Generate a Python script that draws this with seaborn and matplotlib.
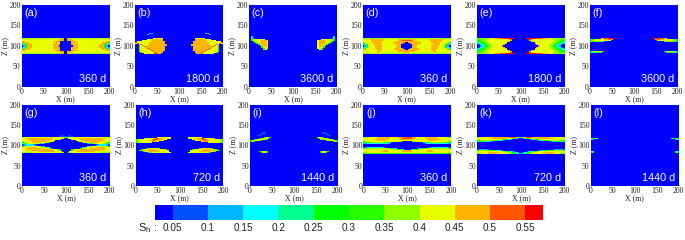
import numpy as np
import matplotlib
matplotlib.use('Agg')
import matplotlib.pyplot as plt
from matplotlib.colors import ListedColormap
import seaborn as sns

# Sh level per cell, left half of each panel (x = 0..100 m, 4 m cells), mirrored on x = 100.
# Rows run from z = 135 m down to z = 77.5 m in 2.5 m steps, 0..b are the colour bar classes,
# short rows are blue to the right, everything outside the rows is blue.
panel_a = ["", "", "", "", "", "",
           "7777777777777777777777790",
           "8888888888888888888889990",
           "8888888888888888888899990",
           "9988888888888888889999000",
           "5999888888888888888999000",
           "3599988888888888889999000",
           "2359998888888888889999000",
           "0259998888888888889990000",
           "0259998888888888889990000",
           "2359998888888888889999000",
           "3599988888888888889999000",
           "5999888888888888888999000",
           "9988888888888888889999000",
           "8888888888888888888899990",
           "8888888888888888888889990",
           "7777777777777777777777790",
           ""]
panel_b = ["",
           "0000000022",
           "00000002",
           "", "", "",
           "0000000000888888",
           "0000000888999999",
           "0000888889999999",
           "08888888899999999",
           "a8888888999999999",
           "8a888888999999999",
           "008a88889999999999",
           "0058a8899999999999",
           "00588a89999999999",
           "005888a9999999999",
           "0058888a999999999",
           "00588888a99999999",
           "005888888a9999999",
           "0058888888a99999",
           "00058888888a9999",
           "00000888888aa99",
           ""]
panel_c = ["", "", "", "",
           "02",
           "03",
           "032",
           "057888888",
           "05788889998",
           "00578899998",
           "00057899998",
           "00005789998",
           "00000589998",
           "00000058998",
           "00000005898",
           "00000005888",
           "00000000588",
           "0000000078",
           "", "", "", "", ""]
panel_d = ["", "", "", "", "", "",
           "7777777777777777777777777",
           "8888999999998888888899999",
           "8888899999998888888899aaa",
           "8888899999988888889999999",
           "5888889999988888899999990",
           "3588889999988888899999900",
           "2358889999888888888999000",
           "0258888999988888888999000",
           "0258888999988888888999000",
           "2358888999988888888999000",
           "3588888999988888889999900",
           "5888888899988888889999990",
           "8888888899988888888999999",
           "8888888899888888888899999",
           "8888888899888888888888899",
           "7777777788777777777777777",
           ""]
panel_e = ["", "", "", "", "", "",
           "7777777889999aaabbbbbb",
           "6667778888888888889a",
           "56677788888888888889",
           "4566778888888888889",
           "34566778888888888",
           "23456677888888889",
           "0134567788888889",
           "002345677888889",
           "002345677888889",
           "0134567788888889",
           "23456677888888889",
           "34566778888888888",
           "4566778888888888889",
           "56677788888888888889",
           "6667778888888888889a",
           "7777777889999aaabbbbbb",
           ""]
panel_f = ["", "", "", "", "", "",
           "00000089aaabbb",
           "4578888899aa9",
           "5788888888780",
           "4567775300",
           "", "", "", "", "", "", "", "", "",
           "46888864",
           "23455430",
           "", ""]
panel_g = ["", "", "", "",
           "0000000000000000000000110",
           "0000000000000000000001111",
           "7888888888888888888888877",
           "8889999999999999998888880",
           "8888999999999999988888000",
           "8889999999999999888",
           "78888999999999888700",
           "5788889999988875",
           "3577888887532",
           "12333321",
           "123333321",
           "5788888888753",
           "8889999988888753",
           "8899999999988887500000000",
           "88899999999999999888750",
           "8888899999999999998875000",
           "8888888889999999999888800",
           "7777788888888888888888770",
           ""]
panel_h = ["", "", "", "", "", "",
           "00000000000088888888",
           "00000788889aa99988880",
           "5788888889aa999888",
           "5788888899a99988",
           "578888888a998",
           "468888888",
           "", "", "", "", "",
           "00000057888875",
           "000578899999888875",
           "0057899999999888888",
           "0000578999999988888",
           "00000005788888888888",
           ""]
panel_i = ["",
           "0000000110",
           "000000111",
           "00000110",
           "000011",
           "",
           "000000005885",
           "00000578885",
           "0057888875",
           "5788875",
           "575",
           "", "", "", "", "", "", "", "", "",
           "000005788500",
           "0000005785",
           ""]
panel_j = ["", "", "", "", "", "",
           "7778888899999998888899aaa",
           "8888888999999998888899aaa",
           "8888889999999988888889999",
           "7888888899999888888888888",
           "6788888888888888888877000",
           "4566777777776543",
           "2233333333333320",
           "", "", "",
           "1233333333321",
           "6777777777777776543",
           "8888888888888888887654300",
           "8888888888899988888888999",
           "8888888888999988888888999",
           "7788888888888888888888888",
           "5666666666666666666666666"]
panel_k = ["", "", "", "", "", "",
           "7888888889999999999aaa993",
           "8888889999999999988876320",
           "788888888888887654320",
           "5677777776654321",
           "34554432100",
           "", "", "", "", "", "", "",
           "1222221",
           "6777777666543210",
           "8888888888888887654321",
           "8888889999999888887654320",
           "6778889999988888888765432"]
panel_l = ["", "", "", "", "", "", "",
           "5653",
           "32",
           "", "", "", "", "", "", "", "", "", "", "",
           "33",
           "55",
           ""]

panels = [panel_a, panel_b, panel_c, panel_d, panel_e, panel_f,
          panel_g, panel_h, panel_i, panel_j, panel_k, panel_l]
tags = ['(a)', '(b)', '(c)', '(d)', '(e)', '(f)', '(g)', '(h)', '(i)', '(j)', '(k)', '(l)']
times = ['360 d', '1800 d', '3600 d', '360 d', '1800 d', '3600 d',
         '360 d', '720 d', '1440 d', '360 d', '720 d', '1440 d']
axis_ticks = [0, 50, 100, 150, 200]

level_colors = ['#0000ff', '#0050ff', '#00b4ff', '#00ffff', '#00ff90', '#00ff00',
                '#28ff00', '#90ff00', '#e8ff00', '#ffb400', '#ff5500', '#ff0000']
bar_labels = ['0.05', '0.1', '0.15', '0.2', '0.25', '0.3', '0.35', '0.4', '0.45', '0.5', '0.55']
# first and last class are half as wide on the colour bar
bar_cells = [0, 1, 1, 2, 2, 3, 3, 4, 4, 5, 5, 6, 6, 7, 7, 8, 8, 9, 9, 10, 10, 11]

# panel boxes in pixels: left, right
col_left = [21.7, 135, 249, 362.7, 476.7, 590]
col_left2 = [22, 135.7, 250, 363.3, 477, 590.7]
panel_w = 87.8

W, H = 685, 240
sns.set_theme(style='white')
plt.rcParams['font.family'] = ['Liberation Serif', 'DejaVu Serif']
cmap = ListedColormap(level_colors)


def box(left, top, right, bottom):
    return [left / W, 1 - bottom / H, (right - left) / W, (bottom - top) / H]


def make_grid(rows):
    grid = np.zeros((80, 50))
    half = np.array([[int(c, 16) for c in r.ljust(25, '0')[:25]] for r in rows])
    grid[26:26 + len(rows)] = np.hstack([half, half[:, ::-1]])
    return grid


fig = plt.figure(figsize=(W / 100, H / 100), dpi=100)

for i, rows in enumerate(panels):
    if i < 6:
        left, top, bottom = col_left[i], 5, 86.7
    else:
        left, top, bottom = col_left2[i - 6], 105, 185.7
    ax = fig.add_axes(box(left, top, left + panel_w, bottom))
    sns.heatmap(make_grid(rows), ax=ax, cmap=cmap, vmin=-0.5, vmax=11.5, cbar=False,
                xticklabels=False, yticklabels=False)
    ax.set_xticks([v / 4 for v in axis_ticks])
    ax.set_xticklabels(axis_ticks, rotation=0)
    ax.set_yticks([(200 - v) / 2.5 for v in axis_ticks])
    ax.set_yticklabels(axis_ticks, rotation=0)
    ax.tick_params(labelsize=5.6, length=1, width=0.3, direction='in', pad=0.8,
                   bottom=True, left=True, colors='#222222')
    ax.set_xlabel('X (m)', fontsize=5.6, labelpad=-0.8, color='#222222')
    ax.set_ylabel('Z (m)', fontsize=5.6, labelpad=0.2, color='#222222')
    ax.text(0.03, 0.9, tags[i], transform=ax.transAxes, color='white', fontsize=7.8,
            family=['Liberation Sans'], ha='left', va='center')
    ax.text(0.96, 0.09, times[i], transform=ax.transAxes, color='white', fontsize=7.8,
            family=['Liberation Sans'], ha='right', va='center')

cax = fig.add_axes(box(155, 205, 543, 220))
sns.heatmap(np.array([bar_cells]), ax=cax, cmap=cmap, vmin=-0.5, vmax=11.5, cbar=False,
            xticklabels=False, yticklabels=False)
cax.set_xticks(np.arange(1, 22, 2))
cax.set_xticklabels(bar_labels, rotation=0, family=['Liberation Sans'], fontsize=7.2, color='#222222')
cax.tick_params(axis='x', length=0, pad=2.5, bottom=True)

fig.text(138 / W, 1 - 228.5 / H, 'S$_{\\mathregular{h}}$ :', family=['Liberation Sans'],
         fontsize=8, color='#222222', ha='left', va='center')

fig.savefig('out.png', dpi=100)
